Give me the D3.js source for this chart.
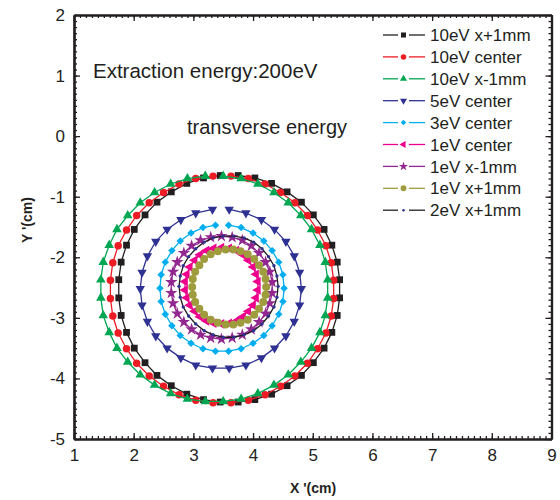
<!DOCTYPE html>
<html>
<head>
<meta charset="utf-8">
<script src="https://cdn.jsdelivr.net/npm/d3@7"></script>
<style>
  body { margin: 0; background: #fff; }
  text { font-family: "Liberation Sans", Arial, sans-serif; fill: #231f20; }
</style>
</head>
<body>
<div id="chart"></div>
<script>
// orbits, X'(cm), Y'(cm)
const ev10Plus = [
  [3.75,-0.65],[4.03,-0.69],[4.31,-0.78],[4.57,-0.92],[4.81,-1.09],[5.01,-1.30],[5.19,-1.54],[5.32,-1.80],[5.41,-2.08],[5.45,-2.37],
  [5.45,-2.67],[5.41,-2.96],[5.32,-3.24],[5.19,-3.50],[5.01,-3.74],[4.81,-3.95],[4.57,-4.12],[4.31,-4.26],[4.03,-4.35],[3.75,-4.39],
  [3.45,-4.39],[3.17,-4.35],[2.89,-4.26],[2.63,-4.12],[2.39,-3.95],[2.19,-3.74],[2.01,-3.50],[1.88,-3.24],[1.79,-2.96],[1.75,-2.67],
  [1.75,-2.37],[1.79,-2.08],[1.88,-1.80],[2.01,-1.54],[2.19,-1.30],[2.39,-1.09],[2.63,-0.92],[2.89,-0.78],[3.17,-0.69],[3.45,-0.65]
];
const ev10Center = [
  [3.63,-0.66],[3.92,-0.70],[4.20,-0.79],[4.46,-0.93],[4.70,-1.10],[4.91,-1.31],[5.08,-1.55],[5.22,-1.81],[5.31,-2.09],[5.35,-2.38],
  [5.35,-2.68],[5.31,-2.97],[5.22,-3.25],[5.08,-3.51],[4.91,-3.75],[4.70,-3.96],[4.46,-4.13],[4.20,-4.27],[3.92,-4.36],[3.63,-4.40],
  [3.33,-4.40],[3.04,-4.36],[2.76,-4.27],[2.50,-4.13],[2.26,-3.96],[2.05,-3.75],[1.88,-3.51],[1.74,-3.25],[1.65,-2.97],[1.61,-2.68],
  [1.61,-2.38],[1.65,-2.09],[1.74,-1.81],[1.88,-1.55],[2.05,-1.31],[2.26,-1.10],[2.50,-0.93],[2.76,-0.79],[3.04,-0.70],[3.33,-0.66]
];
const ev10Minus = [
  [3.50,-0.66],[3.80,-0.70],[4.08,-0.79],[4.35,-0.93],[4.59,-1.10],[4.80,-1.31],[4.98,-1.54],[5.12,-1.80],[5.21,-2.08],[5.25,-2.37],
  [5.25,-2.67],[5.21,-2.96],[5.12,-3.24],[4.98,-3.50],[4.80,-3.73],[4.59,-3.94],[4.35,-4.11],[4.08,-4.25],[3.80,-4.34],[3.50,-4.38],
  [3.20,-4.38],[2.90,-4.34],[2.62,-4.25],[2.35,-4.11],[2.11,-3.94],[1.90,-3.73],[1.72,-3.50],[1.59,-3.24],[1.49,-2.96],[1.45,-2.67],
  [1.45,-2.37],[1.49,-2.08],[1.59,-1.80],[1.72,-1.54],[1.90,-1.31],[2.11,-1.10],[2.35,-0.93],[2.62,-0.79],[2.90,-0.70],[3.20,-0.66]
];
const ev5Center = [
  [3.60,-1.21],[3.88,-1.27],[4.14,-1.38],[4.36,-1.54],[4.55,-1.74],[4.69,-1.98],[4.78,-2.25],[4.81,-2.52],[4.78,-2.79],[4.69,-3.06],
  [4.55,-3.30],[4.36,-3.50],[4.14,-3.66],[3.88,-3.78],[3.60,-3.83],[3.32,-3.83],[3.04,-3.78],[2.79,-3.66],[2.56,-3.50],[2.37,-3.30],
  [2.23,-3.06],[2.14,-2.79],[2.11,-2.52],[2.14,-2.25],[2.23,-1.98],[2.37,-1.74],[2.56,-1.54],[2.79,-1.38],[3.04,-1.27],[3.32,-1.21]
];
const ev3Center = [
  [3.59,-1.47],[3.80,-1.51],[4.00,-1.60],[4.18,-1.73],[4.32,-1.89],[4.43,-2.08],[4.50,-2.29],[4.52,-2.51],[4.50,-2.73],[4.43,-2.94],
  [4.32,-3.13],[4.18,-3.29],[4.00,-3.42],[3.80,-3.51],[3.59,-3.55],[3.37,-3.55],[3.16,-3.51],[2.96,-3.42],[2.78,-3.29],[2.64,-3.13],
  [2.53,-2.94],[2.46,-2.73],[2.44,-2.51],[2.46,-2.29],[2.53,-2.08],[2.64,-1.89],[2.78,-1.73],[2.96,-1.60],[3.16,-1.51],[3.37,-1.47]
];
const ev1Center = [
  [3.47,-1.84],[3.60,-1.85],[3.72,-1.89],[3.83,-1.96],[3.92,-2.05],[4.00,-2.16],[4.05,-2.28],[4.08,-2.40],[4.08,-2.54],[4.05,-2.67],
  [4.00,-2.79],[3.92,-2.89],[3.83,-2.98],[3.72,-3.05],[3.60,-3.09],[3.47,-3.10],[3.34,-3.09],[3.22,-3.05],[3.11,-2.98],[3.02,-2.89],
  [2.94,-2.79],[2.89,-2.67],[2.86,-2.54],[2.86,-2.40],[2.89,-2.28],[2.94,-2.16],[3.02,-2.05],[3.11,-1.96],[3.22,-1.89],[3.34,-1.85]
];
const ev1Minus = [
  [3.47,-1.65],[3.65,-1.67],[3.82,-1.72],[3.97,-1.81],[4.10,-1.93],[4.21,-2.08],[4.28,-2.24],[4.32,-2.41],[4.32,-2.59],[4.28,-2.76],
  [4.21,-2.93],[4.10,-3.07],[3.97,-3.19],[3.82,-3.28],[3.65,-3.33],[3.47,-3.35],[3.29,-3.33],[3.12,-3.28],[2.97,-3.19],[2.84,-3.07],
  [2.73,-2.93],[2.66,-2.76],[2.63,-2.59],[2.63,-2.41],[2.66,-2.24],[2.73,-2.08],[2.84,-1.93],[2.97,-1.81],[3.12,-1.72],[3.29,-1.67]
];
const ev1Plus = [
  [3.67,-1.87],[3.79,-1.90],[3.91,-1.95],[4.02,-2.03],[4.10,-2.13],[4.17,-2.24],[4.21,-2.36],[4.22,-2.49],[4.21,-2.62],[4.17,-2.74],
  [4.10,-2.85],[4.02,-2.95],[3.91,-3.03],[3.79,-3.08],[3.67,-3.11],[3.54,-3.11],[3.41,-3.08],[3.29,-3.03],[3.18,-2.95],[3.10,-2.85],
  [3.03,-2.74],[2.99,-2.62],[2.98,-2.49],[2.99,-2.36],[3.03,-2.24],[3.10,-2.13],[3.18,-2.03],[3.29,-1.95],[3.41,-1.90],[3.54,-1.87]
];
const ev2Plus = [
  [3.68,-1.65],[3.85,-1.68],[4.01,-1.75],[4.15,-1.86],[4.26,-1.99],[4.35,-2.14],[4.40,-2.31],[4.42,-2.48],[4.40,-2.66],[4.35,-2.82],
  [4.26,-2.97],[4.15,-3.10],[4.01,-3.21],[3.85,-3.28],[3.68,-3.32],[3.50,-3.32],[3.33,-3.28],[3.18,-3.21],[3.04,-3.10],[2.92,-2.97],
  [2.83,-2.82],[2.78,-2.66],[2.76,-2.48],[2.78,-2.31],[2.83,-2.14],[2.92,-1.99],[3.04,-1.86],[3.18,-1.75],[3.33,-1.68],[3.50,-1.65]
];

const seriesNames = ['10eV x+1mm', '10eV center', '10eV x-1mm', '5eV center', '3eV center',
  '1eV center', '1eV x-1mm', '1eV x+1mm', '2eV x+1mm'];
const seriesData = [ev10Plus, ev10Center, ev10Minus, ev5Center, ev3Center, ev1Center, ev1Minus, ev1Plus, ev2Plus];

const xTicks = [1, 2, 3, 4, 5, 6, 7, 8, 9];
const yTicks = [-5, -4, -3, -2, -1, 0, 1, 2];

// styles
const styles = [
  { line: '#231f20', fill: '#231f20', sym: d3.symbolSquare, size: 46, rot: 0, closed: false },
  { line: '#ed1c24', fill: '#ed1c24', sym: d3.symbolCircle, size: 44, rot: 0, closed: false },
  { line: '#00a651', fill: '#00a651', sym: d3.symbolTriangle, size: 40, rot: 0, closed: false },
  { line: '#2e3192', fill: '#2e3192', sym: d3.symbolTriangle, size: 38, rot: 180, closed: false },
  { line: '#00aeef', fill: '#00aeef', sym: d3.symbolSquare, size: 28, rot: 45, closed: false },
  { line: '#ec008c', fill: '#ec008c', sym: d3.symbolTriangle, size: 40, rot: -90, closed: true },
  { line: '#92278f', fill: '#92278f', sym: d3.symbolStar, size: 48, rot: 0, closed: true },
  { line: '#9e9c3c', fill: '#9e9c3c', sym: d3.symbolCircle, size: 50, rot: 0, closed: true },
  { line: '#231f20', fill: '#2e3192', sym: d3.symbolCircle, size: 9, rot: 0, closed: true }
];

const width = 560, height = 500;
const margin = { top: 15, right: 8.5, bottom: 61, left: 74 };

const svg = d3.select('#chart').append('svg')
  .attr('width', width).attr('height', height);

const x = d3.scaleLinear().domain([1, 9]).range([margin.left, width - margin.right]);
const y = d3.scaleLinear().domain([-5, 2]).range([height - margin.bottom, margin.top]);

const minorX = d3.range(10, 91).map(i => i / 10);
const minorY = d3.range(-50, 21).map(i => i / 10);

// minor ticks on all four sides
svg.append('g').attr('class', 'minor').attr('transform', `translate(0,${y(-5)})`)
  .call(d3.axisBottom(x).tickValues(minorX).tickSize(-3).tickSizeOuter(0).tickFormat(''));
svg.append('g').attr('class', 'minor').attr('transform', `translate(0,${y(2)})`)
  .call(d3.axisTop(x).tickValues(minorX).tickSize(-3).tickSizeOuter(0).tickFormat(''));
svg.append('g').attr('class', 'minor').attr('transform', `translate(${x(1)},0)`)
  .call(d3.axisLeft(y).tickValues(minorY).tickSize(-3).tickSizeOuter(0).tickFormat(''));
svg.append('g').attr('class', 'minor').attr('transform', `translate(${x(9)},0)`)
  .call(d3.axisRight(y).tickValues(minorY).tickSize(-3).tickSizeOuter(0).tickFormat(''));

// major ticks
svg.append('g').attr('class', 'major').attr('transform', `translate(0,${y(-5)})`)
  .call(d3.axisBottom(x).tickValues(xTicks).tickSize(-6).tickSizeOuter(0).tickPadding(10).tickFormat(d => String(d)));
svg.append('g').attr('class', 'major').attr('transform', `translate(0,${y(2)})`)
  .call(d3.axisTop(x).tickValues(xTicks).tickSize(-6).tickSizeOuter(0).tickFormat(''));
svg.append('g').attr('class', 'major').attr('transform', `translate(${x(1)},0)`)
  .call(d3.axisLeft(y).tickValues(yTicks).tickSize(-6).tickSizeOuter(0).tickPadding(9).tickFormat(d => String(d)));
svg.append('g').attr('class', 'major').attr('transform', `translate(${x(9)},0)`)
  .call(d3.axisRight(y).tickValues(yTicks).tickSize(-6).tickSizeOuter(0).tickFormat(''));

svg.selectAll('.minor line, .major line').attr('stroke', '#231f20').attr('stroke-width', 1.3);
svg.selectAll('.minor path, .major path').attr('stroke', '#231f20').attr('stroke-width', 2.2);
svg.selectAll('.major text').style('font-size', '17px').attr('fill', '#231f20');

// orbits
const line = d3.line().x(d => x(d[0])).y(d => y(d[1]));
const plot = svg.append('g');

seriesData.forEach((pts, i) => {
  const st = styles[i];
  plot.append('path')
    .datum(pts)
    .attr('fill', 'none')
    .attr('stroke', st.line)
    .attr('stroke-width', 1.3)
    .attr('d', line.curve(st.closed ? d3.curveLinearClosed : d3.curveLinear));
  plot.append('g').selectAll('path')
    .data(pts)
    .join('path')
    .attr('transform', d => `translate(${x(d[0])},${y(d[1])}) rotate(${st.rot})`)
    .attr('d', d3.symbol().type(st.sym).size(st.size))
    .attr('fill', st.fill);
});

// legend: line, gap, marker, gap, line
const legend = svg.append('g');
seriesNames.forEach((name, i) => {
  const st = styles[i];
  const ly = 35 + i * 21.9;
  legend.append('line')
    .attr('x1', 383).attr('x2', 398).attr('y1', ly).attr('y2', ly)
    .attr('stroke', st.line).attr('stroke-width', 1.3);
  legend.append('line')
    .attr('x1', 409).attr('x2', 425).attr('y1', ly).attr('y2', ly)
    .attr('stroke', st.line).attr('stroke-width', 1.3);
  legend.append('path')
    .attr('transform', `translate(403.5,${ly}) rotate(${st.rot})`)
    .attr('d', d3.symbol().type(st.sym).size(st.size * 0.55))
    .attr('fill', st.fill);
  legend.append('text')
    .attr('x', 430).attr('y', ly)
    .attr('dy', '0.36em')
    .style('font-size', '17px')
    .text(name);
});

// annotations
svg.append('text').attr('x', 93).attr('y', 78).style('font-size', '20.5px').text('Extraction energy:200eV');
svg.append('text').attr('x', 187).attr('y', 134).style('font-size', '20px').text('transverse energy');

// axis titles
svg.append('text')
  .attr('x', 313).attr('y', 493)
  .attr('text-anchor', 'middle')
  .style('font-size', '14px').style('font-weight', 'bold')
  .text("X '(cm)");
svg.append('text')
  .attr('transform', 'translate(32,220) rotate(-90)')
  .attr('text-anchor', 'middle')
  .style('font-size', '14px').style('font-weight', 'bold')
  .text("Y '(cm)");
</script>
</body>
</html>
